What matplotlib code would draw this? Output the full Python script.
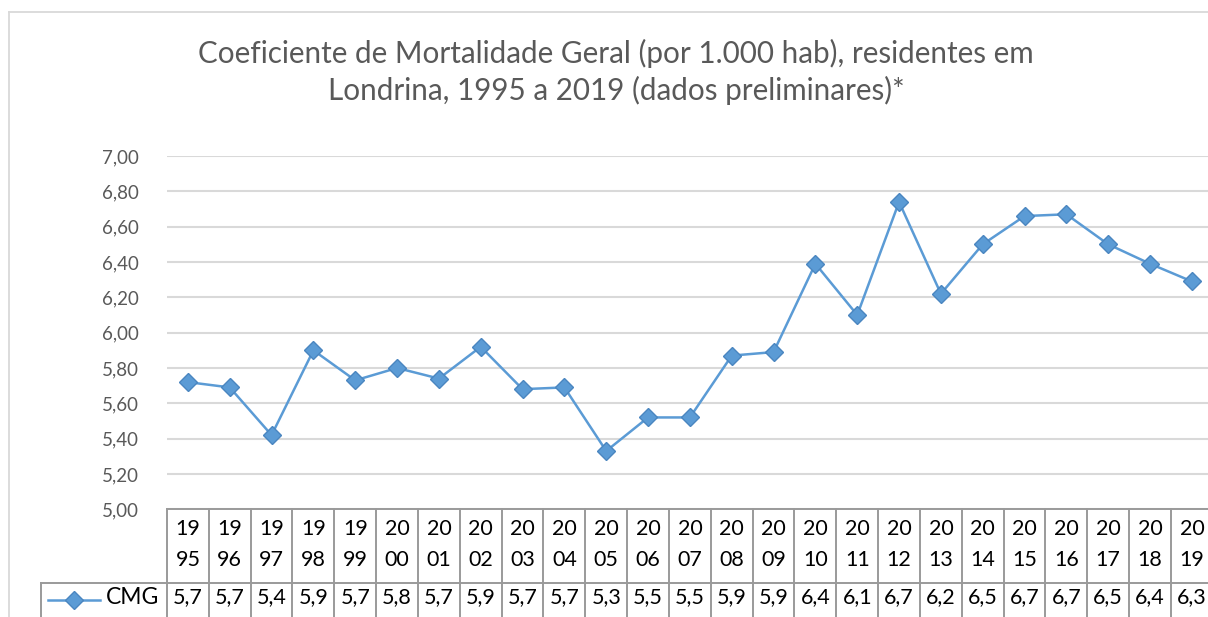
import matplotlib
matplotlib.use("Agg")
import matplotlib.pyplot as plt
from matplotlib.lines import Line2D
from matplotlib.transforms import blended_transform_factory

plt.rcParams['font.family'] = ['Lato', 'DejaVu Sans']

years = list(range(1995, 2020))
cmg = [5.72, 5.69, 5.42, 5.90, 5.73, 5.80, 5.74, 5.92, 5.68, 5.69,
       5.33, 5.52, 5.52, 5.87, 5.89, 6.39, 6.10, 6.74, 6.22, 6.50,
       6.66, 6.67, 6.50, 6.39, 6.29]
series_name = "CMG"
title = ("Coeficiente de Mortalidade Geral (por 1.000 hab), residentes em\n"
         "Londrina, 1995 a 2019 (dados preliminares)*")

blue = "#5B9BD5"
edge = "#4A86C0"
grid_c = "#D9D9D9"
table_c = "#9A9A9A"
txt_gray = "#595959"

W, H = 1208, 617
fig = plt.figure(figsize=(W / 100, H / 100), dpi=100)

# plot area (runs past the right edge, like the cropped original)
left, right = 167 / W, 1212.8 / W
bottom, top = 1 - 509.3 / H, 1 - 156 / H
ax = fig.add_axes([left, bottom, right - left, top - bottom])

x = list(range(len(years)))
ax.plot(x, cmg, color=blue, lw=1.8, marker='D', markersize=9,
        markerfacecolor=blue, markeredgecolor=edge, markeredgewidth=1.0,
        zorder=3, clip_on=False)

ax.set_xlim(-0.5, len(years) - 0.5)
ax.set_ylim(5.0, 7.0)
ax.set_yticks([5.0 + 0.2 * i for i in range(11)])
ax.set_yticklabels([f"{5.0 + 0.2 * i:.2f}".replace('.', ',') for i in range(11)],
                   fontsize=13.5, color=txt_gray)
ax.tick_params(axis='y', length=0, pad=20)
ax.set_xticks([])
ax.grid(axis='y', color=grid_c, lw=1.5)
ax.set_axisbelow(True)
for s in ax.spines.values():
    s.set_visible(False)

# chart border (light gray, only left and top visible)
fig.add_artist(Line2D([9 / W, 9 / W], [1 - 11.7 / H, -0.1], transform=fig.transFigure,
                      color=grid_c, lw=1.3))
fig.add_artist(Line2D([9 / W, 1.1], [1 - 11.7 / H, 1 - 11.7 / H], transform=fig.transFigure,
                      color=grid_c, lw=1.3))

fig.text(616 / W, 1 - 72 / H, title, ha='center', va='center', fontsize=21.3,
         color=txt_gray, linespacing=1.33)

# data table below the axis
tr = blended_transform_factory(ax.transData, fig.transFigure)
t_top = 1 - 509.3 / H
t_mid = 1 - 583 / H
for i in range(len(years) + 1):
    fig.add_artist(Line2D([i - 0.5, i - 0.5], [t_top, -0.1], transform=tr,
                          color=table_c, lw=1.4, clip_on=False))
fig.add_artist(Line2D([-0.5, len(years) + 1], [t_top, t_top], transform=tr,
                      color=table_c, lw=1.4, clip_on=False))
fig.add_artist(Line2D([41 / W, 1.1], [t_mid, t_mid], transform=fig.transFigure,
                      color=table_c, lw=1.4))
fig.add_artist(Line2D([41 / W, 41 / W], [t_mid, -0.1], transform=fig.transFigure,
                      color=table_c, lw=1.4))

for i, (yr, v) in enumerate(zip(years, cmg)):
    s = str(yr)
    fig.text(i, 1 - 529 / H, s[:2], transform=tr, ha='center', va='center',
             fontsize=15.5, color='black')
    fig.text(i, 1 - 559.5 / H, s[2:], transform=tr, ha='center', va='center',
             fontsize=15.5, color='black')
    fig.text(i, 1 - 597 / H, f"{v:.1f}".replace('.', ','), transform=tr,
             ha='center', va='center', fontsize=15.5, color='black')

# legend key in the table row
ly = 1 - 600 / H
fig.add_artist(Line2D([48 / W, 100 / W], [ly, ly], transform=fig.transFigure,
                      color=blue, lw=1.8))
fig.add_artist(Line2D([74 / W], [ly], transform=fig.transFigure, marker='D',
                      markersize=9, markerfacecolor=blue, markeredgecolor=edge,
                      markeredgewidth=1.0, linestyle='none'))
fig.text(106 / W, 1 - 598 / H, series_name, ha='left', va='center', fontsize=16.5,
         color='black')

fig.savefig("out.png", dpi=100)
